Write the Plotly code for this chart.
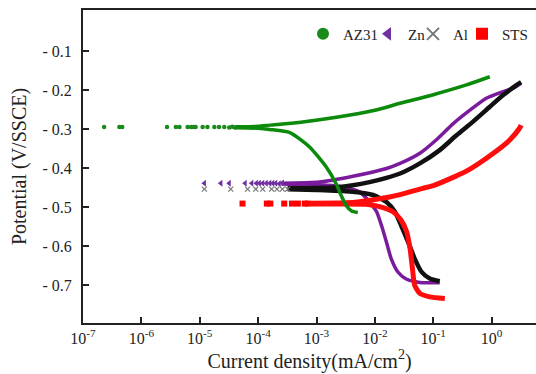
import plotly.graph_objects as go

# ---------------- data (current density in mA/cm2, potential in V/SSCE) ----------------
az31_pts_i = [2.3e-7, 4.2e-7, 4.7e-7, 2.75e-6, 3.9e-6, 4.5e-6, 6.2e-6, 7.1e-6, 7.9e-6,
              8.5e-6, 1.12e-5, 1.35e-5, 1.78e-5, 2.14e-5, 2.63e-5, 3.2e-5, 3.6e-5, 4.0e-5]
az31_pts_e = [-0.295, -0.295, -0.295, -0.295, -0.295, -0.295, -0.295, -0.295, -0.295,
              -0.295, -0.295, -0.295, -0.295, -0.295, -0.295, -0.296, -0.294, -0.296]
az31_an_i = [4.0e-5, 1.0e-4, 1.58e-4, 5.0e-4, 2.2e-3, 1.0e-2, 2.7e-2, 0.1, 0.37, 0.93]
az31_an_e = [-0.294, -0.293, -0.290, -0.283, -0.270, -0.252, -0.234, -0.212, -0.187, -0.166]
az31_ca_i = [4.0e-5, 1.0e-4, 1.58e-4, 3.5e-4, 7.6e-4, 1.48e-3, 2.2e-3, 2.6e-3, 3.2e-3, 4.0e-3, 5.1e-3]
az31_ca_e = [-0.297, -0.298, -0.301, -0.309, -0.346, -0.398, -0.442, -0.468, -0.495, -0.510, -0.514]

zn_pts_i = [1.2e-5, 2.3e-5, 3.2e-5, 6.0e-5, 7.8e-5, 9.3e-5, 1.05e-4, 1.2e-4, 1.38e-4,
            1.58e-4, 1.78e-4, 2.0e-4, 2.3e-4, 2.6e-4]
zn_pts_e = [-0.439, -0.439, -0.439, -0.439, -0.439, -0.439, -0.439, -0.439, -0.439,
            -0.439, -0.439, -0.439, -0.440, -0.438]
zn_an_i = [2.5e-4, 1.12e-3, 4.2e-3, 1.58e-2, 2.7e-2, 5.9e-2, 0.112, 0.22, 0.43, 0.81, 1.58, 2.3, 3.2]
zn_an_e = [-0.439, -0.436, -0.421, -0.401, -0.388, -0.362, -0.328, -0.286, -0.251, -0.221, -0.204, -0.196, -0.182]
zn_ca_i = [2.5e-4, 5.1e-4, 1.12e-3, 2.5e-3, 5.5e-3, 8.1e-3, 1.07e-2, 1.29e-2, 1.58e-2,
           1.9e-2, 2.5e-2, 3.5e-2, 5.9e-2, 0.129]
zn_ca_e = [-0.441, -0.442, -0.443, -0.447, -0.461, -0.487, -0.512, -0.546, -0.590,
           -0.632, -0.667, -0.685, -0.693, -0.694]

al_pts_i = [1.2e-5, 3.4e-5, 6.6e-5, 9.1e-5, 1.2e-4, 1.7e-4, 2.1e-4, 2.6e-4, 3.2e-4]
al_pts_e = [-0.454, -0.454, -0.454, -0.454, -0.454, -0.454, -0.454, -0.454, -0.454]
al_an_i = [3.2e-4, 1.0e-3, 2.2e-3, 4.2e-3, 8.1e-3, 1.58e-2, 2.7e-2, 5.9e-2, 0.129, 0.25, 0.48, 0.93, 1.58, 2.7, 3.2]
al_an_e = [-0.452, -0.451, -0.449, -0.444, -0.436, -0.425, -0.414, -0.388, -0.354, -0.316, -0.281, -0.243, -0.213, -0.187, -0.180]
al_ca_i = [3.2e-4, 1.0e-3, 3.7e-3, 9.3e-3, 1.58e-2, 2.2e-2, 2.8e-2, 3.7e-2, 4.8e-2, 6.3e-2, 8.7e-2, 0.129]
al_ca_e = [-0.454, -0.456, -0.460, -0.469, -0.487, -0.512, -0.546, -0.589, -0.632, -0.666, -0.683, -0.690]

sts_pts_i = [5.4e-5, 1.41e-4, 1.62e-4, 2.8e-4, 3.8e-4, 4.8e-4, 6.3e-4, 7.1e-4]
sts_pts_e = [-0.491, -0.491, -0.491, -0.491, -0.491, -0.491, -0.491, -0.491]
sts_an_i = [7.9e-4, 3.2e-3, 5.5e-3, 1.78e-2, 2.7e-2, 6.6e-2, 0.1, 0.25, 0.37, 1.07, 2.04, 3.0, 3.2]
sts_an_e = [-0.490, -0.489, -0.486, -0.474, -0.468, -0.452, -0.445, -0.420, -0.408, -0.362, -0.328, -0.298, -0.290]
sts_ca_i = [7.9e-4, 2.5e-3, 7.1e-3, 1.2e-2, 2.04e-2, 2.8e-2, 3.5e-2, 4.0e-2, 4.4e-2, 4.8e-2, 5.9e-2, 8.7e-2, 0.158]
sts_ca_e = [-0.492, -0.492, -0.493, -0.499, -0.512, -0.533, -0.563, -0.606, -0.657, -0.700, -0.721, -0.730, -0.734]

x_tickvals = [1e-7, 1e-6, 1e-5, 1e-4, 1e-3, 1e-2, 1e-1, 1e0]
x_ticktext = ["10<sup>-7</sup>", "10<sup>-6</sup>", "10<sup>-5</sup>", "10<sup>-4</sup>",
              "10<sup>-3</sup>", "10<sup>-2</sup>", "10<sup>-1</sup>", "10<sup>0</sup>"]
y_tickvals = [-0.1, -0.2, -0.3, -0.4, -0.5, -0.6, -0.7]
y_ticktext = ["- 0.1", "- 0.2", "- 0.3", "- 0.4", "- 0.5", "- 0.6", "- 0.7"]

FONT = "Liberation Serif"
GREEN, PURPLE, BLACK, RED = "#0b8a0b", "#7a1a9c", "#111111", "#ff0d0d"

fig = go.Figure()

def lines(xs, ys, color, width):
    fig.add_trace(go.Scatter(x=xs, y=ys, mode="lines", line=dict(color=color, width=width, shape="spline", smoothing=0.6),
                             showlegend=False, hoverinfo="skip"))

# Zn
lines(zn_an_i, zn_an_e, PURPLE, 3.5)
lines(zn_ca_i, zn_ca_e, PURPLE, 3.5)
fig.add_trace(go.Scatter(x=zn_pts_i, y=zn_pts_e, mode="markers", name="Zn", legend="legend2",
                         marker=dict(symbol="triangle-left", size=6, color="#7030A0")))
# Al
lines(al_an_i, al_an_e, BLACK, 4.5)
lines(al_ca_i, al_ca_e, BLACK, 4.5)
fig.add_trace(go.Scatter(x=al_pts_i, y=al_pts_e, mode="markers", name="Al", legend="legend3",
                         marker=dict(symbol="x-thin", size=5, color="#777777", line=dict(width=1.2, color="#777777"))))
# STS
lines(sts_an_i, sts_an_e, RED, 5)
lines(sts_ca_i, sts_ca_e, RED, 5)
fig.add_trace(go.Scatter(x=sts_pts_i, y=sts_pts_e, mode="markers", name="STS", legend="legend4",
                         marker=dict(symbol="square", size=6, color="#ff0000")))
# AZ31
lines(az31_an_i, az31_an_e, GREEN, 3.5)
lines(az31_ca_i, az31_ca_e, GREEN, 3.5)
fig.add_trace(go.Scatter(x=az31_pts_i, y=az31_pts_e, mode="markers", name="AZ31", legend="legend",
                         marker=dict(symbol="circle", size=4.5, color="#1a8a1a")))

L, R, T, B = 83, 0, 10, 51
PW = 536 - L - R

def leg(px):
    return dict(x=(px - L) / PW, xanchor="left", y=0.923, yanchor="middle", xref="paper", yref="paper",
                orientation="h", itemsizing="constant", bgcolor="rgba(0,0,0,0)",
                font=dict(family=FONT, size=15, color="#222222"))

fig.update_layout(
    width=536, height=374,
    margin=dict(l=L, r=R, t=T, b=B),
    paper_bgcolor="white", plot_bgcolor="white",
    font=dict(family=FONT, color="#222222"),
    legend=leg(303), legend2=leg(368), legend3=leg(413), legend4=leg(462),
)
fig.update_xaxes(type="log", range=[-7.0, 0.76], tickvals=x_tickvals, ticktext=x_ticktext,
                 ticks="inside", ticklen=6, tickwidth=1.5, tickcolor="#222222",
                 showline=True, linewidth=2, linecolor="#222222", mirror=True,
                 showgrid=False, zeroline=False, tickfont=dict(family=FONT, size=16, color="#222222"),
                 title=dict(text="Current density(mA/cm<sup>2</sup>)", font=dict(family=FONT, size=20, color="#222222"), standoff=4))
fig.update_yaxes(range=[-0.797, 0.005], tickvals=y_tickvals, ticktext=y_ticktext,
                 ticks="inside", ticklen=6, tickwidth=1.5, tickcolor="#222222",
                 showline=True, linewidth=2, linecolor="#222222", mirror=False,
                 showgrid=False, zeroline=False, tickfont=dict(family=FONT, size=16, color="#222222"),
                 ticklabelstandoff=6,
                 title=dict(text="Potential (V/SSCE)", font=dict(family=FONT, size=20, color="#222222"), standoff=10))

fig.write_html("out.html", config={"displayModeBar": False},
               post_script="document.body.style.margin='0';")
